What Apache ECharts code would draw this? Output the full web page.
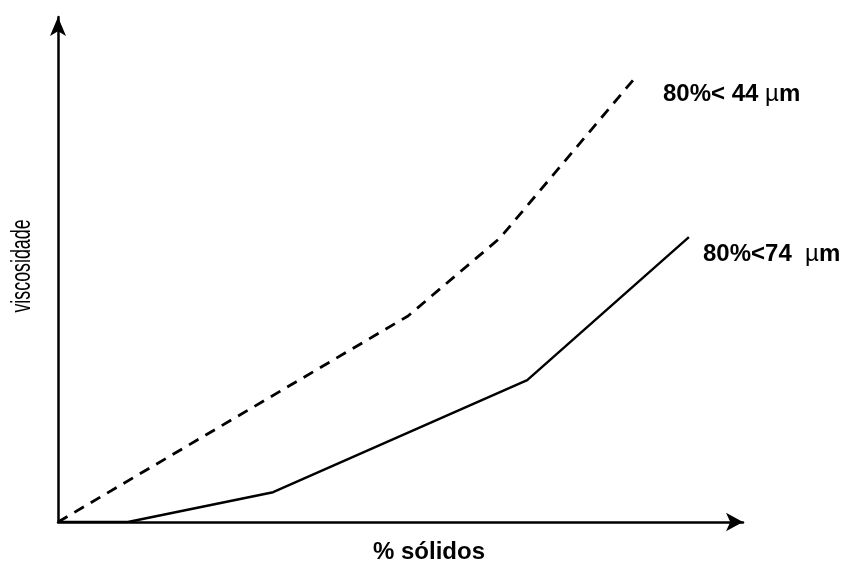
<!DOCTYPE html>
<html>
<head>
<meta charset="utf-8">
<script src="https://cdn.jsdelivr.net/npm/echarts@6/dist/echarts.min.js"></script>
<style>
html,body{margin:0;padding:0;background:#fff;}
#c{width:843px;height:566px;}
</style>
</head>
<body>
<div id="c"></div>
<script>
// Data (arbitrary units, 0..100 on each axis)
const dashX = [0, 51.1, 64.5, 84.2];
const dashY = [0, 40.8, 56.2, 87.9];
const solidX = [0, 10.2, 31.4, 68.5, 92.1];
const solidY = [0, 0, 5.9, 28.1, 56.4];
const dashLabel = '80%< 44 ';
const solidLabel = '80%<74  ';
const xName = '% sólidos';
const yName = 'viscosidade';

const zip = (xs, ys) => xs.map((x, i) => [x, ys[i]]);

const chart = echarts.init(document.getElementById('c'), null, {renderer: 'canvas'});
const axisCommon = {
  type: 'value', min: 0, max: 100,
  axisLabel: {show: false}, axisTick: {show: false}, splitLine: {show: false}
};
chart.setOption({
  animation: false,
  backgroundColor: '#fff',
  grid: {left: 58, top: 17, right: 100, bottom: 44},
  xAxis: Object.assign({}, axisCommon, {
    axisLine: {show: true, lineStyle: {color: '#000', width: 2.5},
      symbol: ['none', 'arrow'], symbolSize: [14, 17]}
  }),
  yAxis: Object.assign({}, axisCommon, {
    axisLine: {show: true, lineStyle: {color: '#000', width: 2.5},
      symbol: ['none', 'arrow'], symbolSize: [12, 19]}
  }),
  series: [
    {type: 'line', data: zip(dashX, dashY), showSymbol: false, symbol: 'none',
      lineStyle: {color: '#000', width: 2.8, type: [11, 8]}},
    {type: 'line', data: zip(solidX, solidY), showSymbol: false, symbol: 'none',
      lineStyle: {color: '#000', width: 2.4}}
  ],
  graphic: [
    {type: 'text', x: 663, y: 94, style: {
      text: '{b|' + dashLabel + '}{u|µ}{b|m}', textAlign: 'left', textVerticalAlign: 'middle', verticalAlign: 'middle',
      rich: {
        b: {fontFamily: 'Liberation Sans, Arial, sans-serif', fontWeight: 'bold', fontSize: 24, fill: '#000'},
        u: {fontFamily: 'Liberation Sans, Arial, sans-serif', fontWeight: 'normal', fontSize: 24, fill: '#000'}
      }}},
    {type: 'text', x: 703, y: 254, style: {
      text: '{b|' + solidLabel + '}{u|µ}{b|m}', textAlign: 'left', textVerticalAlign: 'middle', verticalAlign: 'middle',
      rich: {
        b: {fontFamily: 'Liberation Sans, Arial, sans-serif', fontWeight: 'bold', fontSize: 24, fill: '#000'},
        u: {fontFamily: 'Liberation Sans, Arial, sans-serif', fontWeight: 'normal', fontSize: 24, fill: '#000'}
      }}},
    {type: 'text', x: 429, y: 552, style: {
      text: xName, textAlign: 'center', textVerticalAlign: 'middle', verticalAlign: 'middle',
      fontFamily: 'Liberation Sans, Arial, sans-serif', fontWeight: 'bold', fontSize: 24, fill: '#000'}},
    {type: 'text', x: 23, y: 266, rotation: Math.PI / 2, scaleX: 0.66, style: {
      text: yName, textAlign: 'center', textVerticalAlign: 'middle', verticalAlign: 'middle',
      fontFamily: 'Liberation Sans, Arial, sans-serif', fontWeight: 'normal', fontSize: 27, fill: '#000'}}
  ]
});
</script>
</body>
</html>
